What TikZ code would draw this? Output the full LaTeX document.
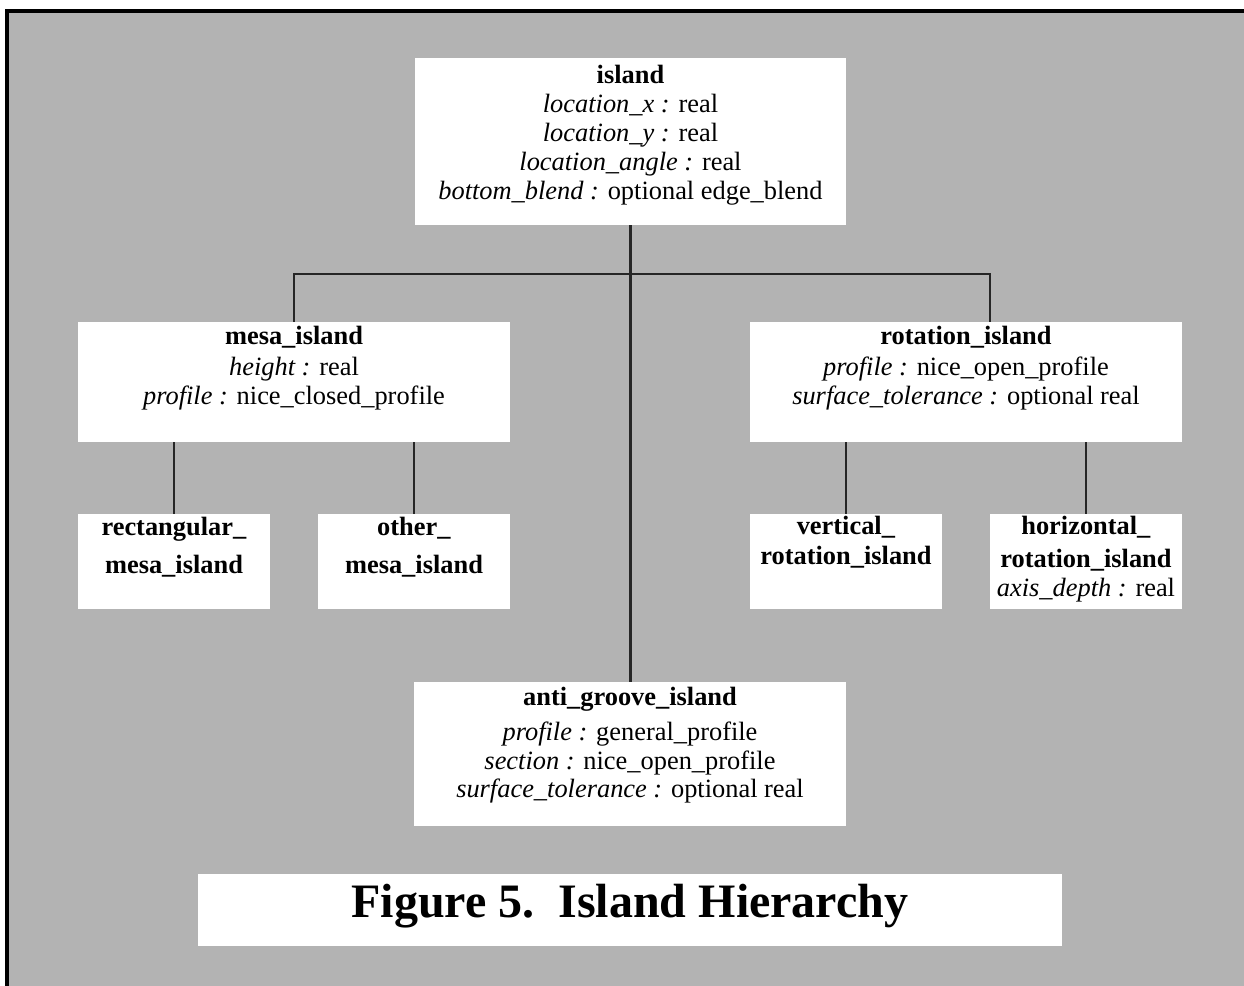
\documentclass[tikz,border=0pt]{standalone}
\usepackage{fontspec}
\setmainfont{Liberation Serif}
\usetikzlibrary{fit,positioning}
\definecolor{panelgray}{RGB}{179,179,179}
\tikzset{
  classbox/.style={
    % The shape:
    rectangle,
    inner sep=0pt,
    % The filling:
    fill=white,
  },
  classtext/.style={
    % The placement:
    inner sep=0pt,
    % The text:
    align=center,
    font=\fontsize{13.2}{14.5}\selectfont},
  link/.style={draw=black!85,line width=1pt}
}

\begin{document}
\begin{tikzpicture}[x=0.5pt,y=-0.5pt,
                    trunk/.style={link,line width=1.5pt}]

  \useasboundingbox (0,0) rectangle (1244,986);
  % Frame:
  \fill[white] (0,0) rectangle (1244,986);
  \fill[panelgray] (7,11) rectangle (1260,1000);
  \draw[line width=2pt] (1260,11) -- (7,11) -- (7,1000);

  % Top class:
  \node (island) [classbox,fit={(415,58) (846,225)}] {};
  \node (island-text) [classtext,below=3.5pt] at (island.north)
    {\textbf{island}\\
     \textit{location\_x :} real\\
     \textit{location\_y :} real\\
     \textit{location\_angle :} real\\
     \textit{bottom\_blend :} optional edge\_blend};

  % Second level:
  \node (mesa) [classbox,fit={(78,322) (510,442)}] {};
  \node (mesa-text) [classtext,below=2pt] at (mesa.north)
    {\textbf{mesa\_island}\\[1pt]
     \textit{height :} real\\
     \textit{profile :} nice\_closed\_profile};
  \node (rotation) [classbox,fit={(750,322) (1182,442)}] {};
  \node (rotation-text) [classtext,below=2pt] at (rotation.north)
    {\textbf{rotation\_island}\\[1pt]
     \textit{profile :} nice\_open\_profile\\
     \textit{surface\_tolerance :} optional real};

  % Third level:
  \node (rectmesa) [classbox,fit={(78,514) (270,609)}] {};
  \node (rectmesa-text) [classtext,below=1.8pt] at (rectmesa.north)
    {\textbf{rectangular\_}\\[4.5pt] \textbf{mesa\_island}};
  \node (othermesa) [classbox,fit={(318,514) (510,609)}] {};
  \node (othermesa-text) [classtext,below=1.8pt] at (othermesa.north)
    {\textbf{other\_}\\[4.5pt] \textbf{mesa\_island}};
  \node (vertrot) [classbox,fit={(750,514) (942,609)}] {};
  \node (vertrot-text) [classtext,below=1pt] at (vertrot.north)
    {\textbf{vertical\_}\\[0.5pt] \textbf{rotation\_island}};
  \node (horizrot) [classbox,fit={(990,514) (1182,609)}] {};
  \node (horizrot-text) [classtext,below=1pt] at (horizrot.north)
    {\textbf{horizontal\_}\\[2pt] \textbf{rotation\_island}\\
     \textit{axis\_depth :} real};

  % Anti groove:
  \node (antigroove) [classbox,fit={(414,682) (846,826)}] {};
  \node (antigroove-text) [classtext,below=2.5pt] at (antigroove.north)
    {\textbf{anti\_groove\_island}\\[3pt]
     \textit{profile :} general\_profile\\
     \textit{section :} nice\_open\_profile\\[-0.5pt]
     \textit{surface\_tolerance :} optional real};

  % Caption:
  \node (caption) [classbox,fit={(198,874) (1062,946)}] {};
  \node (caption-text) [anchor=base,inner sep=0pt,
                        font=\bfseries\fontsize{24}{28}\selectfont] at (630,917)
    {Figure 5.\ \ Island Hierarchy};

  % Connectors:
  \coordinate (bar) at (630,274);
  \draw[trunk] (antigroove.north) -- (antigroove.north |- island.south);
  \draw[link] (mesa.north) |- (bar) -| ([xshift=12pt]rotation.north);
  \draw[link] (rectmesa.north) -- (rectmesa.north |- mesa.south);
  \draw[link] (othermesa.north) -- (othermesa.north |- mesa.south);
  \draw[link] (vertrot.north) -- (vertrot.north |- rotation.south);
  \draw[link] (horizrot.north) -- (horizrot.north |- rotation.south);

\end{tikzpicture}
\end{document}
